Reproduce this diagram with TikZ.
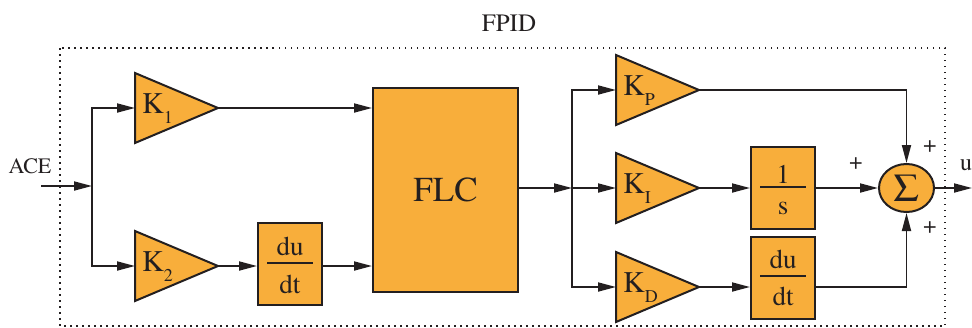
\documentclass[tikz,border=0pt]{standalone}
\usepackage{fontspec}
\IfFontExistsTF{TeX Gyre Termes}{\setmainfont{TeX Gyre Termes}}{\setmainfont{Liberation Serif}}
\usetikzlibrary{arrows.meta,shapes.geometric}
\definecolor{blkfill}{HTML}{F8AE3B}
\definecolor{ink}{HTML}{231F20}
\newcommand{\Ksub}[1]{K\raisebox{-10pt}{\fontsize{18}{18}\selectfont #1}}
\newcommand{\gainblk}[4]{%
  \filldraw[blkshape] (#2,#3-35) -- (#2+83,#3) -- (#2,#3+35) -- cycle;
  \coordinate (#1-in) at (#2,#3);
  \coordinate (#1-out) at (#2+83,#3);
  \node[klabel] (#1-l) at (#2+7,#3+5) {#4};
}
% name, x, y, numerator, denominator, num baseline offset, rule offset, den baseline offset (pixels, downward)
\newcommand{\fracblk}[8]{%
  \node[fracbox] (#1) at (#2,#3) {};
  \node[fractxt] (#1-num) at (#2,#3+#6) {#4};
  \node[fractxt] (#1-den) at (#2,#3+#8) {#5};
  \draw[ink,line width=1.5pt] (#2-23,#3+#7) -- (#2+23,#3+#7);
}
\begin{document}
\begin{tikzpicture}[x=1pt,y=-1pt,
  blkshape/.style={draw=ink,fill=blkfill,line width=2pt,line join=miter},
  klabel/.style={anchor=base west,inner sep=0pt,font=\fontsize{30}{36}\selectfont,text=ink},
  fracbox/.style={draw=ink,fill=blkfill,line width=2pt,minimum width=64pt,minimum height=82pt,inner sep=0pt},
  fractxt/.style={anchor=base,inner sep=0pt,text=ink,font=\fontsize{27}{30}\selectfont},
  arr/.style={draw=ink,line width=1.8pt,-{Triangle[length=18pt,width=9pt]}},
  txt/.style={inner sep=0pt,text=ink,font=\fontsize{24}{28}\selectfont},
  frame/.style={draw=ink,line width=1.5pt,dash pattern=on 1.5pt off 4.5pt}]
\useasboundingbox (0,0) rectangle (972,327);
% outer frame
\draw[frame] (60,48) rectangle (945,326);
\node[txt,anchor=base,font=\fontsize{25}{28}\selectfont] (title) at (509,31) {FPID};
% input
\node[txt,anchor=base,font=\fontsize{22}{26}\selectfont] (ace) at (30,173) {ACE};
\coordinate (acein) at (41,186);
\coordinate (j1) at (92,186);
\draw[arr] (acein) -- (j1);
% gains (left)
\gainblk{K1}{135}{108}{\Ksub{1}}
\gainblk{K2}{135}{266}{\Ksub{2}}
\draw[arr] (j1) |- (K1-in);
\draw[arr] (j1) |- (K2-in);
\fracblk{d1}{290}{264}{du}{dt}{-9}{-1}{29}
\node[blkshape,minimum width=145pt,minimum height=204pt,inner sep=0pt,font=\fontsize{35}{40}\selectfont,text=ink] (flc) at (445.5,190) {FLC};
\draw[arr] (K1-out) -- (K1-out -| flc.west);
\draw[arr] (K2-out) -- (K2-out -| d1.west);
\draw[arr] (d1.east |- K2-out) -- (K2-out -| flc.west);
% right part
\coordinate (j2) at (572,188);
\draw[arr] (flc.east |- j2) -- (j2);
\gainblk{KP}{616}{90}{\Ksub{P}}
\gainblk{KI}{616}{188}{\Ksub{I}}
\gainblk{KD}{616}{287}{\Ksub{D}}
\draw[arr] (j2) |- (KP-in);
\draw[arr] (j2) -- (KI-in);
\draw[arr] (j2) |- (KD-in);
\fracblk{int}{783}{188}{1}{s}{-5}{-1}{26}
\fracblk{d2}{783}{277.5}{du}{dt}{-9.5}{-1.5}{27.5}
\node[ellipse,draw=ink,fill=blkfill,line width=2pt,minimum width=55pt,minimum height=48pt,inner sep=0pt,text=ink,font=\fontsize{40}{44}\selectfont] (sum) at (906.5,188) {Σ};
\draw[arr] (KP-out) -| (sum.north);
\draw[arr] (KI-out) -- (KI-out -| int.west);
\draw[arr] (int.east) -- (sum.west);
\draw[arr] (KD-out) -- (KD-out -| d2.west);
\draw[arr] (d2.east |- KD-out) -| (sum.south);
\coordinate (uout) at (972,188);
\draw[arr] (sum.east) -- (uout);
\node[txt,anchor=base] (ulab) at (966,170) {u};
\node[txt] (p1) at (930,147) {+};
\node[txt] (p2) at (856,164) {+};
\node[txt] (p3) at (930,228) {+};
\end{tikzpicture}
\end{document}
